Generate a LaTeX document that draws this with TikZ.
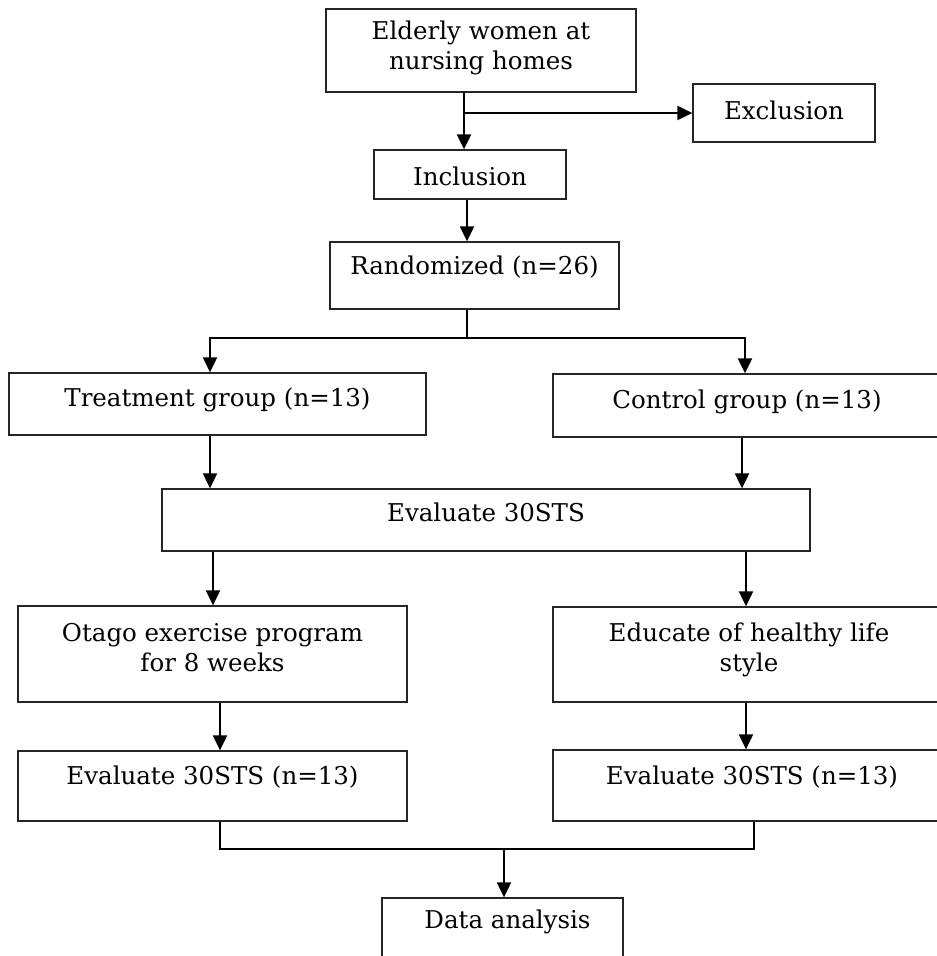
\documentclass[tikz,border=0pt]{standalone}
\usepackage{fontspec}
\setmainfont{DejaVu Serif}
\usetikzlibrary{arrows.meta}
\begin{document}
\begin{tikzpicture}[x=1pt,y=-1pt,
  box/.style={draw=black!85,line width=1.3pt,rectangle,inner sep=0pt,align=center,
    font=\fontsize{24.5}{30}\selectfont,text height=18.5pt,text depth=5.5pt},
  twoline/.style={text height=48.5pt},
  conn/.style={line width=2pt,black},
  arr/.style={conn,-{Triangle[width=14pt,length=15pt]}}]
\useasboundingbox (0,0) rectangle (937,956);
\clip (0,0) rectangle (937,956);
\fill[white] (0,0) rectangle (937,956);
% boxes
\node[box,twoline,minimum width=310pt,minimum height=83pt,text depth=11.5pt] (eld) at (481,50.5) {Elderly women at\\nursing homes};
\node[box,minimum width=182pt,minimum height=58pt] (exc) at (784,113) {Exclusion};
\node[box,minimum width=192pt,minimum height=49pt,text height=26.5pt] (inc) at (470,174.5) {Inclusion};
\node[box,minimum width=289pt,minimum height=67pt,text depth=20.5pt] (rand) at (474.5,275.5) {Randomized (n=26)};
\node[box,minimum width=417pt,minimum height=62pt,text depth=13.5pt] (treat) at (217.5,404) {Treatment group (n=13)};
\node[box,minimum width=388pt,minimum height=63pt,text depth=12.5pt] (ctrl) at (747,405.5) {Control group (n=13)};
\node[box,minimum width=648pt,minimum height=62pt,text depth=15.5pt] (eval) at (486,520) {Evaluate 30STS};
\node[box,twoline,minimum width=389pt,minimum height=96pt,text depth=14.5pt] (otago) at (212.5,654) {Otago exercise program\\for 8 weeks};
\node[box,twoline,minimum width=392pt,minimum height=95pt,text depth=15.5pt] (educ) at (749,654.5) {Educate of healthy life\\style};
\node[box,minimum width=389pt,minimum height=70pt,text depth=21.5pt] (evalL) at (212.5,786) {Evaluate 30STS (n=13)};
\node[box,minimum width=398pt,minimum height=71pt,text depth=20.5pt] (evalR) at (752,785.5) {Evaluate 30STS (n=13)};
\node[box,minimum width=241pt,minimum height=77pt,text depth=34.5pt] (data) at (502.5,936.5) {\hspace*{10pt}Data analysis};
% connectors
\coordinate (j1) at (464,113);
\draw[arr] (eld.south -| j1) -- (inc.north -| j1);
\draw[arr] (j1) -- (exc.west);
\coordinate (c2) at (467,0);
\draw[arr] (inc.south -| c2) -- (rand.north -| c2);
\coordinate (s) at (467,338);
\coordinate (sL) at (210,338);
\coordinate (sR) at (745,338);
\draw[arr] (rand.south -| s) -- (s) -| (treat.north -| sL);
\draw[arr] (s) -| (ctrl.north -| sR);
\coordinate (t1) at (210,0);
\coordinate (t2) at (742,0);
\draw[arr] (treat.south -| t1) -- (eval.north -| t1);
\draw[arr] (ctrl.south -| t2) -- (eval.north -| t2);
\coordinate (e1) at (213,0);
\coordinate (e2) at (746,0);
\draw[arr] (eval.south -| e1) -- (otago.north -| e1);
\draw[arr] (eval.south -| e2) -- (educ.north -| e2);
\coordinate (o1) at (220,0);
\coordinate (o2) at (746,0);
\draw[arr] (otago.south -| o1) -- (evalL.north -| o1);
\draw[arr] (educ.south -| o2) -- (evalR.north -| o2);
\coordinate (mL) at (220,849);
\coordinate (mR) at (754,849);
\coordinate (m) at (504,849);
\draw[conn] (evalL.south -| mL) -- (mL) -- (mR) -- (evalR.south -| mR);
\draw[arr] (m) -- (data.north -| m);
\end{tikzpicture}
\end{document}
